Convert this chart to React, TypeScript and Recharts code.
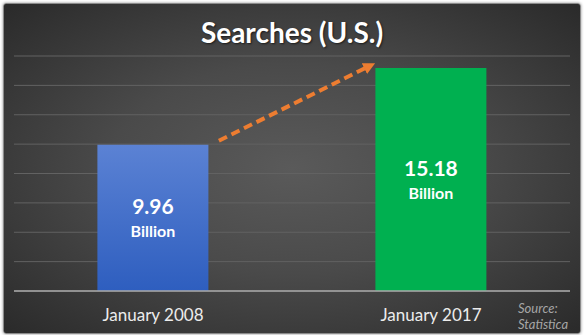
import { BarChart, Bar, XAxis, YAxis, CartesianGrid, LabelList, ReferenceLine, Cell } from "recharts";

const categories = ["January 2008", "January 2017"];
const searches = [9.96, 15.18];
const barFills = ["url(#blueFill)", "#00B050"];
const yTicks = [0, 2, 4, 6, 8, 10, 12, 14, 16];
// arrow runs along the line between these two points, drawn only on the part between the bars
const arrowPoints = [
  { x: categories[0], y: 8.0 },
  { x: categories[1], y: 17.4 },
];
const arrowSpan = [0.237, 0.772];

const FONT = "Lato, 'Open Sans', sans-serif";

const data = categories.map((c, i) => ({ name: c, value: searches[i] }));

const ValueLabel = (props: any) => {
  const { x, y, width, height, value } = props;
  const cx = x + width / 2;
  const cy = y + height / 2;
  return (
    <g fontFamily={FONT} fontWeight={700} fill="#fff" textAnchor="middle">
      <text x={cx} y={cy - 4} fontSize={21}>
        {Number(value).toFixed(2)}
      </text>
      <text x={cx} y={cy + 19} fontSize={16}>
        Billion
      </text>
    </g>
  );
};

const ArrowShape = (props: any) => {
  const { x1, y1, x2, y2 } = props;
  if (x1 == null) return null;
  const [a, b] = arrowSpan;
  const sx = x1 + (x2 - x1) * a;
  const sy = y1 + (y2 - y1) * a;
  const ex = x1 + (x2 - x1) * b;
  const ey = y1 + (y2 - y1) * b;
  return (
    <line
      x1={sx}
      y1={sy}
      x2={ex}
      y2={ey}
      stroke="#ED7D31"
      strokeWidth={4}
      strokeDasharray="9 5"
      markerEnd="url(#arrowHead)"
    />
  );
};

export default function App() {
  return (
    <div style={{ position: "absolute", left: 0, top: 0, width: 584, height: 335, background: "#fff" }}>
      <div
        style={{
          position: "absolute",
          left: 3,
          top: 3,
          width: 576,
          height: 329,
          borderRadius: 3,
          border: "1px solid #8a8a8a",
          boxShadow: "0 0 3px rgba(0,0,0,0.45)",
          background: "radial-gradient(ellipse at 50% 50%, #5a5a5a 0%, #4a4a4a 45%, #2a2a2a 100%)",
        }}
      />
      <div
        style={{
          position: "absolute",
          top: 13,
          left: 0,
          width: 584,
          textAlign: "center",
          fontFamily: FONT,
          fontWeight: 700,
          fontSize: 28,
          lineHeight: "38px",
          color: "#fff",
          textShadow: "1px 1px 2px rgba(0,0,0,0.6)",
        }}
      >
        Searches (U.S.)
      </div>
      <div style={{ position: "absolute", left: 0, top: 0 }}>
        <BarChart
          width={584}
          height={335}
          data={data}
          margin={{ top: 56, right: 14, left: 14, bottom: 0 }}
          barCategoryGap="30%"
        >
          <defs>
            <linearGradient id="blueFill" x1="0" y1="0" x2="0" y2="1">
              <stop offset="0%" stopColor="#5B82D4" />
              <stop offset="100%" stopColor="#2E5EBF" />
            </linearGradient>
            <marker id="arrowHead" viewBox="0 0 10 10" refX="3" refY="5" markerWidth="3" markerHeight="3" orient="auto">
              <path d="M0,0 L10,5 L0,10 z" fill="#ED7D31" />
            </marker>
          </defs>
          <CartesianGrid vertical={false} stroke="#626262" />
          <XAxis
            dataKey="name"
            height={44}
            axisLine={{ stroke: "#a8a8a8", strokeWidth: 1.5 }}
            tickLine={false}
            tickMargin={12}
            tick={{ fill: "#ececec", fontSize: 17, fontFamily: FONT }}
          />
          <YAxis hide domain={[0, 16]} ticks={yTicks} />
          <Bar dataKey="value" isAnimationActive={false}>
            {data.map((_, i) => (
              <Cell key={i} fill={barFills[i]} />
            ))}
            <LabelList dataKey="value" content={ValueLabel} />
          </Bar>
          <ReferenceLine segment={arrowPoints} ifOverflow="visible" shape={ArrowShape} />
        </BarChart>
      </div>
      <div
        style={{
          position: "absolute",
          left: 518,
          top: 300,
          fontFamily: FONT,
          fontStyle: "italic",
          fontSize: 13,
          lineHeight: "16px",
          color: "#a6a6a6",
        }}
      >
        Source:
        <br />
        Statistica
      </div>
    </div>
  );
}
